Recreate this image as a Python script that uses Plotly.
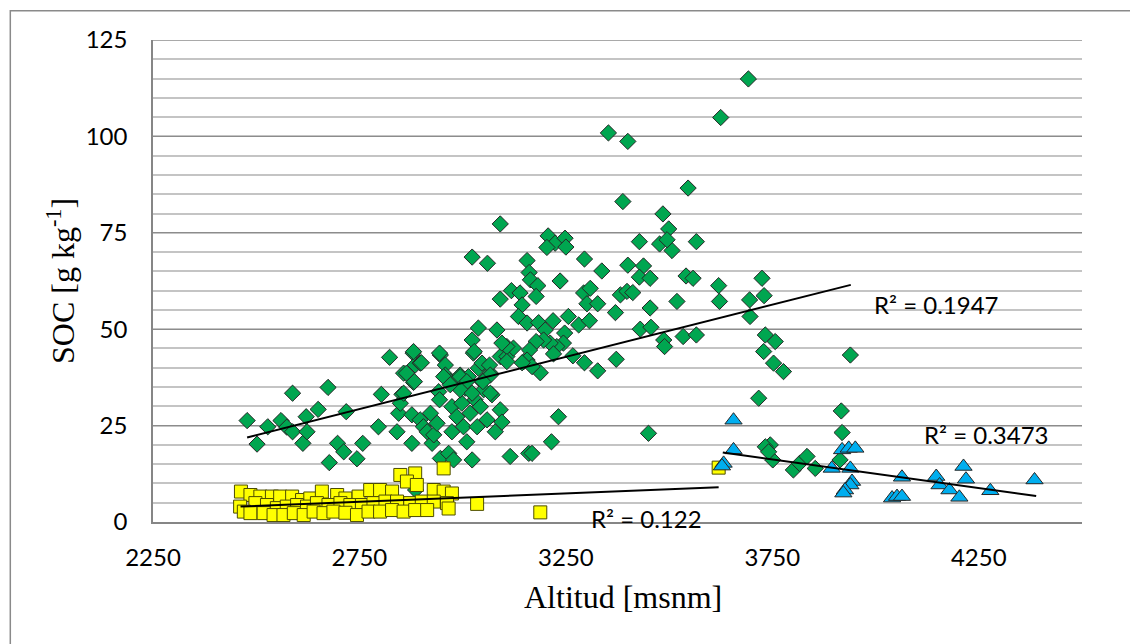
import plotly.graph_objects as go

# ---------------- data ----------------
green_x = [2478, 2502, 2528, 2560, 2574, 2588, 2588, 2613, 2621, 2623, 2650, 2674, 2677, 2697, 2712, 2718,
           2744, 2758, 2796, 2803, 2823, 2841, 2845, 2853, 2849, 2857, 2877, 2880, 2881, 2885, 2897, 2877,
           2897, 2905, 2914, 2922, 2926, 2930, 2938, 2942, 2944, 2946, 2946, 2958, 2958, 2966, 2970, 2974,
           2974, 2978, 2986, 2994, 2998, 3002, 3006, 3010, 3014, 3018, 3023, 3026, 3030, 3035, 3038, 3043,
           3047, 3051, 3059, 3067, 3071, 3079, 3091, 3091, 3107, 3115, 3148, 3160, 2886, 3091, 3023, 3060,
           3388, 3485, 3499, 3428, 3477, 3507, 3495, 3566, 3207, 3224, 3248, 3204, 3250, 3156, 3161, 3164,
           3182, 3236, 3295, 3337, 3400, 3438, 3428, 3454, 3541, 3558, 3118, 3091, 3139, 3178, 3144, 3135,
           3156, 3184, 3219, 3200, 3256, 3281, 3307, 3293, 3309, 3301, 3327, 3370, 3382, 3398, 3412, 3454,
           3519, 3430, 3456, 3487, 3489, 3534, 3566, 3372, 3327, 3295, 3267, 3247, 3244, 3228, 3212, 3196,
           3178, 3162, 3156, 3188, 3168, 3144, 3123, 3107, 3095, 3083, 3038, 3023, 3028, 3047, 3065, 3107,
           3067, 3049, 3067, 2881, 2900, 2944, 2864, 2883, 2954, 2994, 3010, 2994, 2970, 3023, 2857, 3220,
           3692, 3625, 3353, 3400, 3546, 3620, 3725, 3622, 3695, 3730, 3696, 3733, 3757, 3729, 3939, 3753,
           3777, 3717, 3232, 3450, 3215, 3168, 3095, 3745, 3751, 3801, 3917, 3919, 3733, 3741, 3816, 3834,
           3854, 3914]
green_y = [26.3, 20.2, 24.7, 26.3, 24.6, 33.4, 23.4, 20.4, 27.3, 23.4, 29.2, 34.9, 15.4, 20.4, 18.2, 28.6,
           16.4, 20.4, 24.7, 33.1, 42.7, 23.4, 28.2, 33.1, 30.8, 38.6, 20.4, 43.8, 36.2, 40.7, 41.2, 27.8,
           26.5, 24.7, 23.4, 28.2, 20.4, 22.6, 25.6, 33.8, 31.7, 16.5, 43.3, 40.7, 38.1, 17.8, 36.4, 29.9,
           23.4, 16.1, 27.3, 38.1, 30.8, 24.7, 34.7, 20.8, 37.7, 28.2, 16.1, 43.8, 31.7, 24.7, 39.9, 29.9,
           36.4, 34.3, 26.5, 38.6, 33.0, 23.4, 29.1, 42.9, 42.9, 17.0, 41.6, 17.8, 8.3, 77.3, 68.7, 67.1,
           83.1, 79.9, 76.0, 72.7, 72.1, 70.4, 73.2, 72.7, 74.2, 72.3, 73.6, 71.2, 71.3, 67.8, 64.7, 62.8,
           61.3, 62.5, 68.2, 65.1, 66.6, 66.4, 63.5, 63.2, 63.8, 63.2, 60.0, 57.8, 59.4, 58.5, 56.3, 53.3,
           51.6, 51.7, 52.2, 49.8, 53.3, 51.1, 52.2, 59.4, 60.6, 56.6, 56.6, 54.3, 58.9, 59.8, 59.5, 55.5,
           57.2, 50.0, 50.5, 47.2, 45.5, 48.1, 48.5, 42.2, 39.2, 41.3, 43.1, 49.0, 46.4, 45.5, 46.4, 47.2,
           46.8, 44.6, 42.0, 38.7, 40.3, 41.3, 45.1, 45.5, 46.4, 49.8, 50.3, 47.2, 44.2, 41.2, 40.7, 41.6,
           38.1, 36.4, 33.4, 44.2, 41.3, 43.8, 38.6, 36.4, 37.7, 37.7, 36.4, 34.3, 35.6, 33.4, 33.4, 43.6,
           114.9, 104.9, 100.9, 98.7, 86.6, 61.3, 63.2, 57.2, 57.6, 58.7, 53.3, 48.5, 46.8, 44.2, 43.3, 41.2,
           39.0, 32.1, 27.3, 23.0, 20.8, 17.8, 25.9, 20.0, 16.1, 13.5, 28.8, 23.2, 19.5, 18.2, 15.2, 17.0,
           13.9, 16.1]

yellow_x = [2463, 2486, 2510, 2538, 2558, 2587, 2611, 2631, 2659, 2696, 2716, 2748, 2776, 2800, 2829, 2849,
            2885, 2865, 2889, 2930, 2954, 2974, 2954, 3035,
            2461, 2498, 2526, 2550, 2574, 2599, 2623, 2647, 2675, 2704, 2728, 2756, 2784, 2813, 2841, 2873,
            2901, 2930, 2962,
            2470, 2486, 2518, 2542, 2566, 2591, 2615, 2639, 2663, 2687, 2716, 2744, 2772, 2800, 2829, 2857,
            2885, 2914, 2966,
            3620, 3188]
yellow_y = [7.9, 7.0, 6.6, 6.6, 6.6, 6.6, 5.7, 6.1, 7.9, 7.0, 6.1, 6.6, 8.3, 8.3, 7.9, 12.2,
            12.6, 10.5, 9.6, 8.3, 7.9, 7.4, 13.9, 4.7,
            4.0, 4.9, 4.4, 3.6, 4.0, 4.4, 4.0, 4.9, 4.4, 4.9, 4.4, 4.4, 4.9, 5.3, 5.3, 4.9,
            5.3, 5.3, 4.9,
            2.7, 2.3, 2.3, 1.8, 1.8, 2.3, 1.8, 2.7, 2.3, 2.7, 2.4, 1.8, 2.7, 2.7, 3.1, 2.7,
            3.1, 3.1, 3.5,
            14.1, 2.5]

blue_x = [3656, 3656, 3632, 3628, 3919, 3935, 3951, 3894, 3939, 3943, 3939, 3926, 3922, 4064, 4040, 4052,
          4064, 4147, 4155, 4179, 4213, 4219, 4203, 4278, 4385]
blue_y = [26.4, 18.7, 15.2, 14.5, 18.7, 19.1, 19.1, 13.9, 13.9, 10.5, 9.6, 8.3, 7.5, 11.6, 6.2, 6.6,
          6.6, 11.8, 9.6, 8.3, 14.4, 11.1, 6.4, 8.1, 10.9]

# linear trend lines (end points)
green_trend_x = [2478, 3940]
green_trend_y = [21.9, 61.5]
yellow_trend_x = [2462, 3620]
yellow_trend_y = [4.0, 9.0]
blue_trend_x = [3630, 4389]
blue_trend_y = [18.0, 6.75]

r2_labels = ["R² = 0.1947", "R² = 0.122", "R² = 0.3473"]

x_ticks = [2250, 2750, 3250, 3750, 4250]
y_ticks = [0, 25, 50, 75, 100, 125]
y_max = 125

# ---------------- figure ----------------
fig = go.Figure()
outline = dict(color="#262626", width=1)

fig.add_trace(go.Scatter(x=green_x, y=green_y, mode="markers",
                         marker=dict(symbol="diamond", size=12.5, color="#00A650", line=outline),
                         showlegend=False))
fig.add_trace(go.Scatter(x=yellow_x, y=yellow_y, mode="markers",
                         marker=dict(symbol="square", size=13, color="#FFFF00",
                                     line=dict(color="#4d4d00", width=1)),
                         showlegend=False))
fig.add_trace(go.Scatter(x=blue_x, y=blue_y, mode="markers",
                         marker=dict(symbol="triangle-up", size=15, color="#00AEEF", line=outline),
                         showlegend=False))

for tx, ty in [(green_trend_x, green_trend_y), (yellow_trend_x, yellow_trend_y), (blue_trend_x, blue_trend_y)]:
    fig.add_trace(go.Scatter(x=tx, y=ty, mode="lines", line=dict(color="black", width=2),
                             showlegend=False, hoverinfo="skip"))

lab_font = dict(family="Lato, Calibri, sans-serif", size=24, color="black")
fig.add_annotation(x=4147, y=56.3, text=r2_labels[0], showarrow=False, font=lab_font)
fig.add_annotation(x=3445, y=1.0, text=r2_labels[1], showarrow=False, font=lab_font)
fig.add_annotation(x=4269, y=22.6, text=r2_labels[2], showarrow=False, font=lab_font)

title_font = dict(family="Liberation Serif, Times New Roman, serif", size=32, color="black")
fig.add_annotation(xref="paper", yref="paper", x=0.506, y=-0.155, xanchor="center", yanchor="middle",
                   text="Altitud [msnm]", showarrow=False, font=title_font)
fig.add_annotation(xref="paper", yref="paper", x=-0.099, y=0.5, xanchor="center", yanchor="middle",
                   textangle=-90, text="SOC [g kg<sup>-1</sup>]", showarrow=False, font=title_font)

# chart-area border (left and top edges visible)
fig.add_shape(type="rect", xref="paper", yref="paper", x0=-0.1536, x1=1.2, y0=-0.4, y1=1.0608,
              line=dict(color="#8a8a8a", width=1.5), fillcolor="rgba(0,0,0,0)", layer="below")
# top major gridline at the axis maximum
fig.add_shape(type="line", xref="paper", yref="y", x0=0, x1=1, y0=y_max, y1=y_max,
              line=dict(color="#8c8c8c", width=1.5))

tick_font = dict(family="Lato, Calibri, sans-serif", size=24, color="black")
fig.update_xaxes(range=[2250, 4500], tickvals=x_ticks, showgrid=False, zeroline=False,
                 showline=True, linecolor="#868686", linewidth=2, ticks="",
                 tickfont=tick_font, ticklabelstandoff=13)
fig.update_yaxes(range=[0, y_max], tickvals=y_ticks, showgrid=True, gridcolor="#8c8c8c", gridwidth=1,
                 minor=dict(dtick=5, showgrid=True, gridcolor="#c4c4c4", gridwidth=1.5),
                 zeroline=False, showline=True, linecolor="#868686", linewidth=1.5, ticks="",
                 tickfont=tick_font, ticklabelstandoff=19)

fig.update_layout(width=1130, height=644, margin=dict(l=153, r=48, t=40, b=122),
                  plot_bgcolor="white", paper_bgcolor="white")

fig.write_html("out.html", config={"displayModeBar": False},
               post_script="document.body.style.margin='0';")
